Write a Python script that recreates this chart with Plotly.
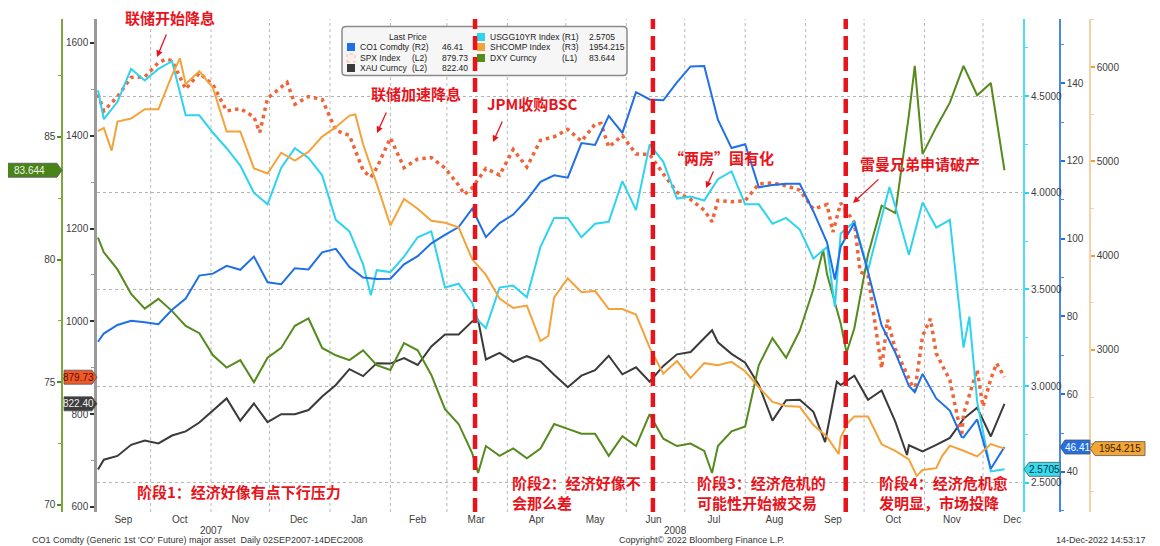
import pandas as pd
import plotly.graph_objects as go

# ---------------- data (weekly closes) ----------------
dates = ["2007-09-04"] + [d.strftime("%Y-%m-%d") for d in pd.date_range("2007-09-07", periods=67, freq="7D")]

co1 = [73.5, 75.6, 77.8, 78.9, 78.5, 78.0, 81.7, 84.6, 90.5, 91.0, 93.0, 92.0, 95.4, 88.8, 88.3, 92.4, 92.1,
       96.5, 97.4, 92.7, 90.0, 89.6, 89.7, 93.4, 95.5, 98.8, 101.0, 103.0, 107.7, 100.4, 104.0, 106.2, 110.0,
       114.6, 116.3, 115.7, 124.6, 124.1, 131.6, 127.2, 137.7, 135.8, 135.6, 140.2, 144.3, 144.4, 130.6, 123.3,
       124.3, 113.2, 113.8, 114.1, 114.1, 107.0, 99.0, 98.0, 104.0, 91.5, 77.7, 70.7, 62.1, 65.2, 58.9, 55.8,
       48.9, 53.5, 40.8, 46.41]

spx = [1489.4, 1453.6, 1484.3, 1525.8, 1526.8, 1557.6, 1561.8, 1500.6, 1535.3, 1509.7, 1453.7, 1458.7, 1440.7,
       1481.1, 1504.7, 1468.0, 1484.5, 1478.5, 1411.6, 1401.0, 1325.2, 1330.6, 1395.4, 1331.3, 1350.0, 1353.1,
       1330.6, 1293.4, 1288.1, 1329.5, 1315.2, 1370.4, 1332.8, 1390.3, 1397.8, 1413.9, 1388.3, 1425.4, 1375.9,
       1400.4, 1360.7, 1360.0, 1317.9, 1278.4, 1262.9, 1239.5, 1260.7, 1257.8, 1260.3, 1296.3, 1298.2, 1292.2,
       1282.8, 1242.3, 1251.7, 1255.1, 1213.3, 1099.2, 899.2, 940.6, 876.8, 968.8, 931.0, 873.3, 800.0, 896.2,
       876.1, 879.73]

xau = [681, 702, 710, 734, 743, 737, 754, 763, 782, 807, 834, 786, 823, 783, 800, 800, 809, 838, 863, 897, 882,
       910, 909, 921, 906, 946, 972, 972, 1000, 918, 932, 913, 925, 914, 885, 858, 883, 895, 926, 886, 901, 870,
       904, 929, 934, 963, 955, 930, 911, 863, 786, 830, 831, 805, 761, 863, 883, 831, 851, 784, 733, 720, 734,
       749, 790, 814, 752, 822.40]

usgg10 = [4.53, 4.38, 4.47, 4.64, 4.58, 4.64, 4.68, 4.40, 4.40, 4.31, 4.23, 4.14, 4.00, 3.94, 4.13, 4.23, 4.18,
          4.09, 3.86, 3.80, 3.63, 3.60, 3.59, 3.67, 3.77, 3.80, 3.51, 3.53, 3.43, 3.30, 3.51, 3.52, 3.46, 3.72,
          3.87, 3.87, 3.77, 3.84, 3.85, 4.06, 3.91, 4.25, 4.16, 3.97, 3.98, 3.96, 4.07, 4.11, 3.94, 3.94, 3.84,
          3.87, 3.81, 3.66, 3.72, 3.79, 3.85, 3.60, 3.87, 3.93, 3.68, 3.95, 3.82, 3.86, 3.20, 2.92, 2.56, 2.5705]

shcomp = [5321, 5355, 5421, 5454, 5552, 5552, 5913, 5819, 5955, 5778, 5316, 5316, 4925, 4871, 5091, 5007, 5101,
          5262, 5362, 5485, 5181, 4761, 4320, 4600, 4497, 4370, 4348, 4300, 3961, 3796, 3544, 3446, 3471, 3094,
          3558, 3761, 3613, 3626, 3433, 3433, 3376, 3024, 2748, 2883, 2703, 2860, 2837, 2874, 2774, 2605, 2449,
          2406, 2397, 2203, 2079, 2075, 2294, 2294, 2000, 1930, 1839, 1728, 1747, 1986, 1931, 1871, 2002, 1954.215]

dxy = [80.9, 80.3, 79.6, 78.6, 78.0, 78.4, 77.9, 77.3, 77.0, 76.1, 75.6, 75.9, 75.0, 76.0, 76.4, 77.3, 77.6,
       76.4, 76.1, 75.9, 76.3, 75.7, 75.5, 76.6, 76.3, 75.3, 73.9, 73.3, 72.1, 72.4, 72.0, 72.3, 71.9, 72.3,
       73.3, 73.1, 72.9, 72.9, 72.0, 72.8, 72.4, 73.7, 72.7, 72.4, 72.5, 72.2, 72.4, 73.0, 73.2, 75.7, 76.8,
       76.0, 77.1, 78.8, 79.4, 77.4, 77.2, 80.2, 82.2, 81.9, 85.9, 84.3, 85.4, 86.4, 87.9, 86.7, 87.2, 83.644]

# extra mid-week turning points visible in the chart
co1_extra = [("2008-09-16", 89.5), ("2008-10-27", 60.5), ("2008-11-20", 49.0)]
spx_extra = [("2007-10-09", 1565.2), ("2007-11-26", 1407.2), ("2007-12-10", 1515.0), ("2008-01-22", 1310.5),
             ("2008-03-10", 1273.4), ("2008-05-19", 1426.6), ("2008-07-15", 1214.9), ("2008-09-15", 1192.7),
             ("2008-09-29", 1106.4), ("2008-10-13", 1003.4), ("2008-10-27", 848.9), ("2008-11-04", 1005.8),
             ("2008-11-20", 752.4), ("2008-12-01", 816.2), ("2008-12-08", 909.7)]
xau_extra = [("2008-03-17", 1003), ("2008-07-15", 981), ("2008-09-11", 740), ("2008-09-17", 870),
             ("2008-10-23", 712)]
usgg10_extra = [("2008-01-22", 3.47), ("2008-03-17", 3.34), ("2008-09-16", 3.41), ("2008-10-14", 4.03),
                ("2008-11-24", 3.36)]
shcomp_extra = [("2007-09-11", 5113), ("2007-10-16", 6092), ("2008-01-14", 5497), ("2008-04-22", 3148),
                ("2008-09-18", 1896), ("2008-09-23", 2236), ("2008-10-28", 1665), ("2008-11-10", 1875)]
dxy_extra = [("2008-03-17", 71.3), ("2008-07-15", 71.3), ("2008-09-10", 80.4), ("2008-09-22", 76.2),
             ("2008-10-27", 87.9)]

month_ticks = ["2007-09-17", "2007-10-16", "2007-11-16", "2007-12-16", "2008-01-16", "2008-02-15",
               "2008-03-16", "2008-04-16", "2008-05-16", "2008-06-15", "2008-07-16", "2008-08-16",
               "2008-09-15", "2008-10-16", "2008-11-15", "2008-12-16"]
month_labels = ["Sep", "Oct", "Nov", "Dec", "Jan", "Feb", "Mar", "Apr", "May", "Jun", "Jul", "Aug",
                "Sep", "Oct", "Nov", "Dec"]
month_starts = ["2007-10-01", "2007-11-01", "2007-12-01", "2008-01-01", "2008-02-01", "2008-03-01",
                "2008-04-01", "2008-05-01", "2008-06-01", "2008-07-01", "2008-08-01", "2008-09-01",
                "2008-10-01", "2008-11-01", "2008-12-01"]
year_labels = [("2007", "2007-11-01"), ("2008", "2008-06-26")]
event_dates = ["2008-03-15 10:00", "2008-06-14 16:00", "2008-09-21 14:00"]


def merged(base, extra):
    d = dict(zip(dates, base))
    d.update(dict(extra))
    keys = sorted(d)
    return keys, [d[k] for k in keys]


# ---------------- geometry helpers (page has an 8px body margin) ----------------
W, H = 1152, 538
OFF = 8
ML, MR, MT, MB = 12, 12, 11, 34
PW, PH = W - ML - MR, H - MT - MB


def px(x):
    """screen pixel x -> paper fraction"""
    return (x - OFF - ML) / PW


def py(y):
    """screen pixel y -> paper fraction"""
    return (H - MB - (y - OFF)) / PH


C_CO1 = "#1f6fe6"
C_SPX = "#f0643a"
C_XAU = "#3a3a3a"
C_USG = "#2dd3ef"
C_SHC = "#f4a23a"
C_DXY = "#558a1c"
RED = "#e8141c"
TICKFONT = dict(family="Liberation Sans, Arial", size=10, color="#404040")
LEGFONT = "Liberation Sans, Arial"

fig = go.Figure()
series = [(xau, xau_extra, "y", dict(color=C_XAU, width=2)),
          (spx, spx_extra, "y", dict(color=C_SPX, width=3.5, dash="3.5px,4px")),
          (dxy, dxy_extra, "y2", dict(color=C_DXY, width=2)),
          (usgg10, usgg10_extra, "y3", dict(color=C_USG, width=2)),
          (shcomp, shcomp_extra, "y5", dict(color=C_SHC, width=2)),
          (co1, co1_extra, "y4", dict(color=C_CO1, width=2))]
for base, extra, ya, ln in series:
    xs, ys = merged(base, extra)
    fig.add_trace(go.Scatter(x=xs, y=ys, yaxis=ya, mode="lines", line=ln))


def yax(rng, tick0, dtick, minor, color, linecolor, lw=1.5, **kw):
    d = dict(range=rng, tickmode="linear", tick0=tick0, dtick=dtick, ticks="outside", ticklen=4, tickwidth=1.5,
             tickcolor=color, showline=True, linecolor=linecolor, linewidth=lw, showgrid=False, zeroline=False,
             tickfont=TICKFONT, fixedrange=True,
             minor=dict(dtick=minor, ticks="outside", ticklen=3, tickwidth=1, tickcolor=linecolor, showgrid=False))
    d.update(kw)
    return d


shapes = []
for m in month_starts:
    shapes.append(dict(type="line", xref="x", yref="paper", x0=m, x1=m, y0=0, y1=1, layer="below",
                       line=dict(color="#b9b9b9", width=1, dash="dot")))

# legend box (rounded rect centred at 484.5, 51)
hw, hh, r = 142.5, 24.5, 4
legend_path = (f"M{-hw + r},{-hh} L{hw - r},{-hh} Q{hw},{-hh} {hw},{-hh + r} L{hw},{hh - r} Q{hw},{hh} {hw - r},{hh} "
               f"L{-hw + r},{hh} Q{-hw},{hh} {-hw},{hh - r} L{-hw},{-hh + r} Q{-hw},{-hh} {-hw + r},{-hh} Z")
shapes.append(dict(type="path", xref="paper", yref="paper", xsizemode="pixel", ysizemode="pixel",
                   xanchor=px(484.5), yanchor=py(51), path=legend_path, fillcolor="#f6f6f6",
                   line=dict(color="#8a8a8a", width=1.5), layer="above"))

annotations = []


def txt(text, x, y, size=8.5, color="#222", xanchor="left", family=LEGFONT, **kw):
    annotations.append(dict(text=text, x=px(x), y=py(y), xref="paper", yref="paper", showarrow=False,
                            xanchor=xanchor, yanchor="middle", font=dict(size=size, color=color, family=family),
                            **kw))


# legend contents
txt("Last Price", 408, 37, xanchor="center")
left_rows = [("CO1 Comdty", "(R2)", "46.41", C_CO1, 47), ("SPX Index", "(L2)", "879.73", None, 58),
             ("XAU Curncy", "(L2)", "822.40", C_XAU, 68)]
right_rows = [("USGG10YR Index", "(R1)", "2.5705", C_USG, 37), ("SHCOMP Index", "(R3)", "1954.215", C_SHC, 47),
              ("DXY Curncy", "(L1)", "83.644", C_DXY, 58)]
for name, side, val, col, yy in left_rows:
    if col:
        shapes.append(dict(type="rect", xref="paper", yref="paper", x0=px(347), x1=px(355), y0=py(yy + 4),
                           y1=py(yy - 4), fillcolor=col, line=dict(width=0), layer="above"))
    else:
        shapes.append(dict(type="rect", xref="paper", yref="paper", x0=px(347), x1=px(355), y0=py(yy + 4),
                           y1=py(yy - 4), fillcolor="#fdeee8", line=dict(width=1, color="#f3b8a5", dash="dot"),
                           layer="above"))
    txt(name, 358, yy)
    txt(side, 410, yy)
    txt(val, 440, yy)
for name, side, val, col, yy in right_rows:
    shapes.append(dict(type="rect", xref="paper", yref="paper", x0=px(477), x1=px(485), y0=py(yy + 4),
                       y1=py(yy - 4), fillcolor=col, line=dict(width=0), layer="above"))
    txt(name, 488, yy)
    txt(side, 560, yy)
    txt(val, 587, yy)

# red dashed event lines
for d in event_dates:
    shapes.append(dict(type="line", xref="x", yref="paper", x0=d, x1=d, y0=0, y1=1, layer="above",
                       line=dict(color=RED, width=4.5, dash="14px,7px")))

# last-price tags on the axes
tags = [  # label, value, yref, axis screen x, width, direction, fill, text colour
    ("83.644", 83.644, "y2", 62, 60, -1, "#4a8418", "#eef5e6"),
    ("879.73", 879.73, "y", 97, 33, -1, "#f05a2a", "#5a1000"),
    ("822.40", 822.40, "y", 97, 33, -1, "#3c3c3c", "#f0f0f0"),
    ("2.5705", 2.5705, "y3", 1024, 36, 1, "#37dcef", "#053040"),
    ("46.41", 46.41, "y4", 1060, 30, 1, "#2470e0", "#ffffff"),
    ("1954.215", 1954.215, "y5", 1090, 55, 1, "#f2a634", "#3a2000"),
]
for label, val, yref, axx, w, s, fill, tcol in tags:
    path = f"M0,0 L{s * 5},7 L{s * w},7 L{s * w},-7 L{s * 5},-7 Z"
    shapes.append(dict(type="path", xref="paper", yref=yref, xsizemode="pixel", ysizemode="pixel",
                       xanchor=px(axx), yanchor=val, path=path, fillcolor=fill,
                       line=dict(color="#555555", width=0.8), layer="above"))
    cx = axx + s * (w + 5) / 2
    annotations.append(dict(text=label, x=px(cx), y=val, xref="paper", yref=yref, showarrow=False,
                            xanchor="center", yanchor="middle",
                            font=dict(family=LEGFONT, size=10, color=tcol)))

# event labels + arrows
CJK = "Noto Sans CJK SC"
events = [("联储开始降息", 170, 18), ("联储加速降息", 416, 93), ("JPM收购BSC", 532, 103),
          ("“两房”国有化", 721, 157), ("雷曼兄弟申请破产", 920, 163)]
for t, x, y in events:
    txt(f"<b>{t}</b>", x, y, size=15, color=RED, xanchor="center", family=CJK)
arrows = [(157, 57, 167, 33), (377, 133, 387, 111), (493, 142, 503, 120), (706, 188, 714, 170),
          (853, 203, 880, 178)]
for hx, hy, tx, ty in arrows:
    annotations.append(dict(text="", x=px(hx), y=py(hy), xref="paper", yref="paper", showarrow=True,
                            ax=tx - hx, ay=ty - hy, arrowhead=2, arrowsize=1, arrowwidth=1.3, arrowcolor=RED))

stages = [("阶段1：经济好像有点下行压力", 135, 491), ("阶段2：经济好像不<br>会那么差", 510, 492.5),
          ("阶段3：经济危机的<br>可能性开始被交易", 695, 492.5), ("阶段4：经济危机愈<br>发明显，市场投降", 877, 492.5)]
for t, x, y in stages:
    t = "<br>".join(f"<b>{part}</b>" for part in t.split("<br>"))
    txt(t, x, y, size=15, color=RED, family=CJK, align="left")

# year labels & footer
for t, d in year_labels:
    annotations.append(dict(text=t, x=d, y=py(530), xref="x", yref="paper", showarrow=False, xanchor="center",
                            yanchor="middle", font=TICKFONT))
txt("CO1 Comdty (Generic 1st 'CO' Future) major asset  Daily 02SEP2007-14DEC2008", 30, 540, size=9,
    color="#333")
txt("Copyright© 2022 Bloomberg Finance L.P.", 617, 540, size=9, color="#333")
txt("14-Dec-2022 14:53:17", 1148, 540, size=9, color="#333", xanchor="right")

fig.update_layout(
    width=W, height=H, margin=dict(l=ML, r=MR, t=MT, b=MB, autoexpand=False), paper_bgcolor="white",
    plot_bgcolor="white", showlegend=False,
    xaxis=dict(domain=[px(97), px(1022)], type="date", range=["2007-09-03 12:00", "2008-12-21"],
               tickmode="array", tickvals=month_ticks, ticktext=month_labels, ticks="", showgrid=False,
               showline=False, zeroline=False, tickfont=TICKFONT, fixedrange=True),
    yaxis=yax([589.2, 1651.7], 600, 200, 100, "#333333", "#9a9a9a", lw=2.5),
    yaxis2=yax([69.71, 89.81], 70, 5, 2.5, C_DXY, "#7aa83a", overlaying="y", anchor="free",
               position=px(62), side="left"),
    yaxis3=yax([2.35, 4.898], 2.5, 0.5, 0.25, C_USG, "#4fdcf2", lw=2, overlaying="y", anchor="free",
               position=px(1024), side="right", tickformat=".4f", showgrid=True, gridcolor="#b3b3b3",
               griddash="dot", gridwidth=1),
    yaxis4=yax([29.7, 156.5], 40, 20, 10, C_CO1, "#4a88ea", overlaying="y", anchor="free",
               position=px(1060), side="right"),
    yaxis5=yax([1282, 6509], 2000, 1000, 500, "#f0a030", "#f3d3a6", overlaying="y", anchor="free",
               position=px(1090), side="right", tickmode="array", tickvals=[2000, 3000, 4000, 5000, 6000],
               ticktext=["", "3000", "4000", "5000", "6000"]),
    shapes=shapes, annotations=annotations,
)

fig.write_html("out.html")
